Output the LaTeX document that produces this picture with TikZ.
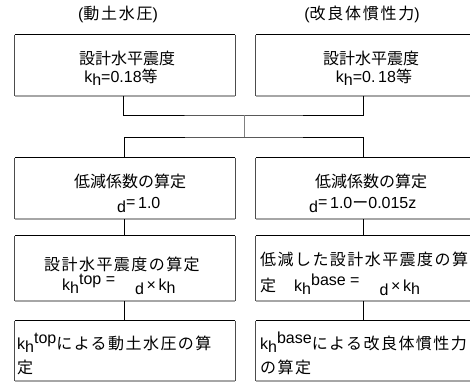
\documentclass[tikz,border=0pt]{standalone}
\usepackage{fontspec}
\setmainfont{Liberation Sans}
\newfontfamily\jp{Noto Sans CJK JP}
\newfontfamily\jpw[LetterSpace=9]{Noto Sans CJK JP}
\newfontfamily\jpt[LetterSpace=11]{Noto Sans CJK JP}
\newcommand\kh{k\raisebox{-3pt}{h}}
\newcommand\supr[1]{\raisebox{6pt}{#1}}
\newcommand\dd{\raisebox{-4pt}{d}}
\newcommand\drawbox[1]{%
  \draw[sidec] (#1.north west) -- (#1.south west);
  \draw[sidec] (#1.north east) -- (#1.south east);
  \draw[botc] (#1.south west) -- (#1.south east);
  \draw[topc] (#1.north west) -- (#1.north east);}
\tikzset{
  boxL/.style={rectangle, draw=none, inner sep=0pt, minimum width=220pt},
  boxR/.style={rectangle, draw=none, inner sep=0pt, minimum width=230pt},
  sidec/.style={draw=black!70, line width=0.9pt},
  botc/.style={draw=black!35, line width=1.5pt},
  topc/.style={draw=black, line width=1pt},
  conn/.style={draw=black, line width=0.9pt},
  connG/.style={draw=black!50, line width=0.9pt},
  txt/.style={inner sep=0pt, font=\fontsize{16}{19}\selectfont},
}
\begin{document}
\begin{tikzpicture}[x=1pt, y=-1pt]
\useasboundingbox (0,0) rectangle (470,383);
% titles
\node[txt, anchor=base] (title1) at (118,19) {({\jpt 動土水圧})};
\node[txt, anchor=base] (title2) at (362,19) {({\jpt 改良体慣性力})};
% boxes
\node[boxL, minimum height=61pt] (b1L) at (125,65.5) {};
\node[boxR, minimum height=61pt] (b1R) at (371,65.5) {};
\node[boxL, minimum height=61pt] (b2L) at (125,188.5) {};
\node[boxR, minimum height=61pt] (b2R) at (371,188.5) {};
\node[boxL, minimum height=65pt] (b3L) at (125,268.5) {};
\node[boxR, minimum height=65pt] (b3R) at (371,268.5) {};
\node[boxL, minimum height=60pt] (b4L) at (125,351) {};
\node[boxR, minimum height=60pt] (b4R) at (371,351) {};
\drawbox{b1L}\drawbox{b1R}\drawbox{b2L}\drawbox{b2R}
\drawbox{b3L}\drawbox{b3R}\drawbox{b4L}\drawbox{b4R}
% connectors
\coordinate (j1) at (244,115);
\coordinate (j2) at (244,137);
\draw[conn] ([xshift=-2pt]b1L.south) |- (j1) -| ([xshift=-8pt]b1R.south);
\draw[connG] (j1) -- (j2);
\draw[conn] ([xshift=-1pt]b2L.north) |- (j2) -| ([xshift=-8pt]b2R.north);
\draw[conn] ([xshift=-1pt]b2L.south) -- ([xshift=-1pt]b3L.north);
\draw[conn] ([xshift=-8pt]b2R.south) -- ([xshift=-8pt]b3R.north);
\draw[conn] ([xshift=-1pt]b3L.south) -- ([xshift=-1pt]b4L.north);
\draw[conn] ([xshift=-8pt]b3R.south) -- ([xshift=-8pt]b4R.north);
% row 1 texts
\node[txt, anchor=base] (t1La) at (127,64) {\jp 設計水平震度};
\node[txt, anchor=base] (t1Lb) at (121,82) {\kh=0.18{\jp 等}};
\node[txt, anchor=base] (t1Ra) at (371,64) {\jp 設計水平震度};
\node[txt, anchor=base] (t1Rb) at (374,82) {\kh=0.\,18{\jp 等}};
% row 2 texts
\node[txt, anchor=base] (t2La) at (130,187) {\jp 低減係数の算定};
\node[txt, anchor=base west] (t2Lb) at (117,208) {\dd\raisebox{1pt}{=}\,1.0};
\node[txt, anchor=base] (t2Ra) at (371,187) {\jp 低減係数の算定};
\node[txt, anchor=base west] (t2Rb) at (309,208) {\dd\raisebox{1pt}{=}\,1.0{\jp ー}0.015z};
% row 3 texts
\node[txt, anchor=base] (t3La) at (122,270) {\jpw 設計水平震度の算定};
\node[txt, anchor=base west] (t3Lb) at (62,290) {\kh\supr{top =}\hspace{20pt}\dd\,×\,\kh};
\node[txt, anchor=base west] (t3Ra) at (260,265) {\jpw 低減した設計水平震度の算};
\node[txt, anchor=base west] (t3Rb) at (260,291) {{\jpw 定}\hspace{18pt}\kh\supr{base =}\hspace{20pt}\dd\,×\,\kh};
% row 4 texts
\node[txt, anchor=base west] (t4La) at (17,349) {\kh\supr{top}{\jpw による動土水圧の算}};
\node[txt, anchor=base west] (t4Lb) at (17,373) {\jpw 定};
\node[txt, anchor=base west] (t4Ra) at (260,349) {\kh\supr{base}{\jpw による改良体慣性力}};
\node[txt, anchor=base west] (t4Rb) at (260,373) {\jpw の算定};
\end{tikzpicture}
\end{document}
